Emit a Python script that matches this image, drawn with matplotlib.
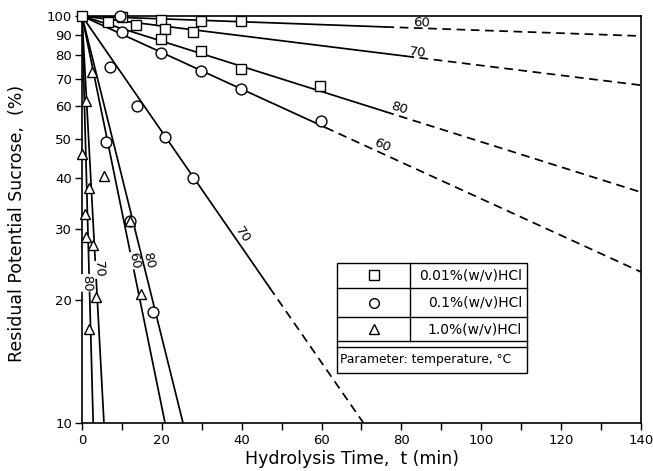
import numpy as np
import matplotlib
matplotlib.use("Agg")
import matplotlib.pyplot as plt
from matplotlib.patches import Rectangle
from matplotlib.lines import Line2D

# ---- data ----
# fitted first order lines: start (0,100), break (solid -> dashed), end
line_names = ["0.01-60", "0.01-70", "0.01-80", "0.1-60", "0.1-70",
              "0.1-80", "1.0-60", "1.0-70", "1.0-80"]
line_break_t = [76, 81, 76, 61, 47, None, None, None, None]
line_break_y = [94.0, 79.7, 58.2, 53.2, 21.5, None, None, None, None]
line_end_t = [140, 140, 140, 140, 70.5, 25.3, 20.8, 5.5, 2.8]
line_end_y = [89.3, 67.6, 36.9, 23.5, 10, 10, 10, 10, 10]

# 0.01 % (w/v) HCl  (squares)
sq_t = [0, 10, 19.8, 29.8, 39.8, 6.5, 13.5, 20.9, 27.7, 19.8, 29.7, 39.9, 59.7]
sq_y = [100, 99.3, 97.8, 97.2, 97.0, 96.6, 95.0, 92.9, 91.3, 87.8, 82.0, 74.0, 67.3]
# 0.1 % (w/v) HCl  (circles)
ci_t = [9.6, 10.0, 19.7, 29.9, 39.9, 59.8, 6.9, 13.8, 20.9, 27.8, 6.1, 11.9, 17.9]
ci_y = [99.8, 91.3, 81.1, 73.2, 66.1, 55.1, 74.9, 60.0, 50.3, 40.1, 48.9, 31.3, 18.7]
# 1.0 % (w/v) HCl  (triangles)
tr_t = [2.6, 5.5, 11.9, 14.9, 1.7, 2.8, 3.4, 0.1, 1.0, 0.65, 1.08, 1.8]
tr_y = [72.8, 40.4, 31.3, 20.7, 37.7, 27.3, 20.4, 45.7, 61.8, 32.7, 28.6, 17.0]

# temperature labels on the lines
lab_text = ["60", "70", "80", "60", "70", "80", "60", "70", "80"]
lab_t = [85.0, 84.0, 79.4, 75.2, 40.2, 16.6, 13.1, 4.3, 1.3]
lab_y = [96.1, 81.5, 59.3, 48.1, 28.9, 25.1, 25.1, 23.8, 22.1]
lab_gap = [False, False, False, False, False, False, True, True, True]

y_ticks = [10, 20, 30, 40, 50, 60, 70, 80, 90, 100]
x_ticks = list(range(0, 141, 10))
x_labels = [str(v) if v % 20 == 0 else "" for v in x_ticks]

legend_labels = ["0.01%(w/v)HCl", "0.1%(w/v)HCl", "1.0%(w/v)HCl"]
legend_markers = ["s", "o", "^"]

fig = plt.figure(figsize=(6.53, 4.71), dpi=100)
ax = fig.add_axes([82/653, 1-423/471, 559/653, 407/471])
ax.set_yscale("log")
ax.set_xlim(0, 140)
ax.set_ylim(10, 100)

lw = 1.25
for i in range(len(line_names)):
    if line_break_t[i] is None:
        ax.plot([0, line_end_t[i]], [100, line_end_y[i]], color="black", lw=lw)
    else:
        ax.plot([0, line_break_t[i]], [100, line_break_y[i]], color="black", lw=lw)
        ax.plot([line_break_t[i], line_end_t[i]], [line_break_y[i], line_end_y[i]],
                color="black", lw=lw, dashes=(5, 3.2))

mk = dict(mfc="white", mec="black", mew=1.0, ls="none", zorder=5, clip_on=False)
ax.plot(sq_t, sq_y, marker="s", ms=6.8, **mk)
ax.plot(ci_t, ci_y, marker="o", ms=7.8, **mk)
ax.plot(tr_t, tr_y, marker="^", ms=7.8, **mk)


def screen_angle(i):
    p0 = ax.transData.transform((0, 100))
    p1 = ax.transData.transform((line_end_t[i], line_end_y[i]))
    return np.degrees(np.arctan2(p1[1] - p0[1], p1[0] - p0[0]))


for i in range(len(lab_text)):
    kw = {}
    if lab_gap[i]:
        kw["bbox"] = dict(fc="white", ec="none", pad=0.3)
    ax.text(lab_t[i], lab_y[i], lab_text[i], fontsize=9.5, ha="center", va="center",
            rotation=screen_angle(i), rotation_mode="anchor", zorder=4, **kw)

ax.set_yticks(y_ticks)
ax.set_yticklabels([str(v) for v in y_ticks])
ax.yaxis.set_minor_locator(matplotlib.ticker.NullLocator())
ax.set_xticks(x_ticks)
ax.set_xticklabels(x_labels)
ax.tick_params(axis="both", direction="out", length=5, width=1, labelsize=9.5, pad=3)
ax.tick_params(axis="y", pad=2)
for s in ax.spines.values():
    s.set_linewidth(1.2)

ax.set_xlabel("Hydrolysis Time,  t (min)", fontsize=12.5)
ax.set_ylabel("Residual Potential Sucrose,  (%)", fontsize=12.5)
ax.xaxis.set_label_coords(0.483, -0.066)
ax.yaxis.set_label_coords(-0.116, 0.49)
ax.yaxis.label.set_va("center")

# legend table
x0, x1, xd = 0.457, 0.796, 0.587
rows = [0.393, 0.332, 0.260, 0.201]
ax.add_patch(Rectangle((x0, 0.123), x1 - x0, 0.393 - 0.123, transform=ax.transAxes,
                       fc="white", ec="black", lw=1.0, zorder=6))
for yy in rows[1:] + [0.187]:
    ax.add_line(Line2D([x0, x1], [yy, yy], transform=ax.transAxes, color="black", lw=1.0, zorder=7))
ax.add_line(Line2D([xd, xd], [0.201, 0.393], transform=ax.transAxes, color="black", lw=1.0, zorder=7))
for j in range(3):
    yc = (rows[j] + rows[j + 1]) / 2
    ax.plot([(x0 + xd) / 2], [yc], marker=legend_markers[j], ms=7, mfc="white", mec="black",
            mew=1.0, transform=ax.transAxes, zorder=8, clip_on=False)
    ax.text(0.787, yc, legend_labels[j], transform=ax.transAxes, fontsize=10,
            ha="right", va="center", zorder=8)
ax.text(0.462, 0.155, "Parameter: temperature, °C", transform=ax.transAxes, fontsize=8.8,
        ha="left", va="center", zorder=8)

fig.savefig("out.png", dpi=100)
